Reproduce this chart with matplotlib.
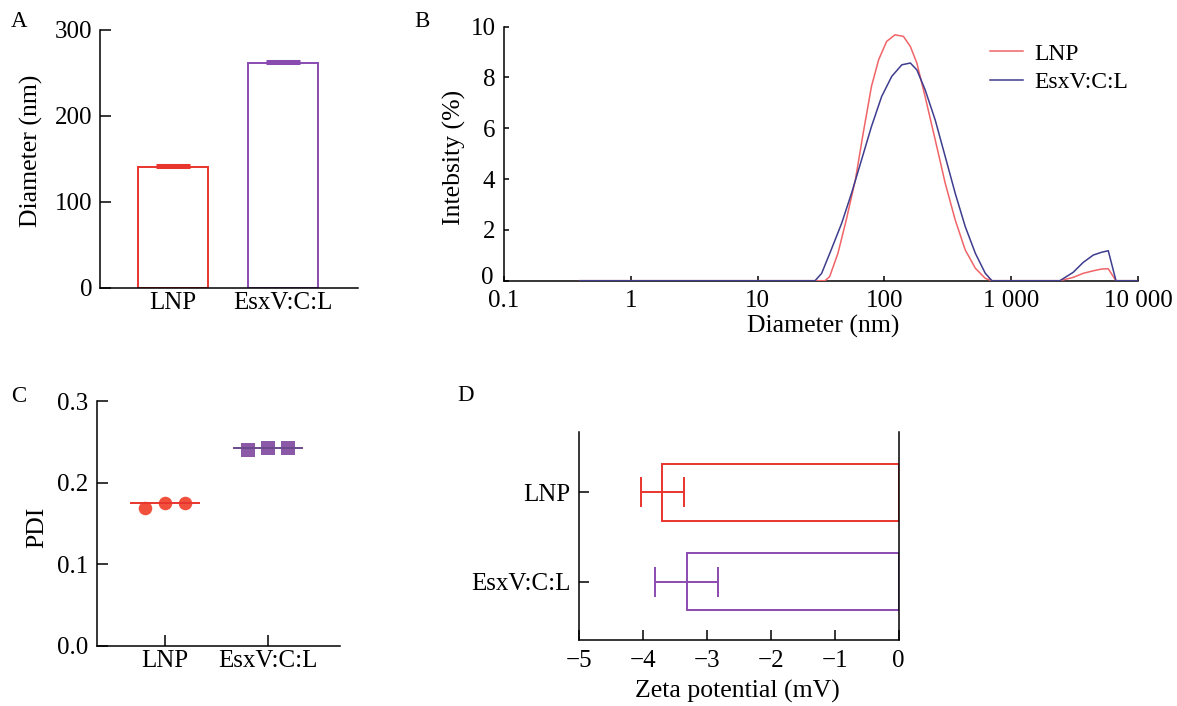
import matplotlib
matplotlib.use("Agg")
import matplotlib.pyplot as plt
import matplotlib.transforms as mtransforms
import numpy as np

plt.rcParams['font.family'] = ['Liberation Serif', 'DejaVu Serif']
plt.rcParams['axes.linewidth'] = 1.1

# ---------------- data ----------------
groups = ["LNP", "EsxV:C:L"]

# A: diameter (nm)
diam_mean = [141, 262]
diam_err = [2, 2]

# B: DLS intensity distributions
lnp_d = [0.4, 30, 34, 37, 43, 50, 59, 68, 79, 90, 104, 121, 141, 160, 180, 209, 251, 301,
         361, 433, 520, 623, 703, 2410, 3070, 3680, 4420, 5140, 5800, 6670, 10000]
lnp_i = [0, 0, 0, 0.16, 1.08, 2.39, 3.97, 5.81, 7.65, 8.7, 9.42, 9.68, 9.62, 9.22, 8.57, 7.25,
         5.55, 3.84, 2.39, 1.21, 0.49, 0.09, 0, 0, 0.13, 0.29, 0.39, 0.46, 0.47, 0, 0]
esx_d = [0.4, 28.4, 32, 38, 46, 55, 66, 79, 95, 114, 137, 160, 180, 209, 251, 301, 361, 433,
         520, 623, 703, 2410, 3070, 3680, 4420, 5140, 5800, 6670, 10000]
esx_i = [0, 0, 0.29, 1.21, 2.26, 3.44, 4.76, 6.07, 7.25, 8.04, 8.5, 8.57, 8.3, 7.52, 6.33, 4.89,
         3.44, 2.13, 1.08, 0.29, 0, 0, 0.33, 0.72, 1.01, 1.12, 1.18, 0, 0]
b_xticks = [0.1, 1, 10, 100, 1000, 10000]
b_xticklabels = ["0.1", "1", "10", "100", "1 000", "10 000"]

# C: PDI replicates
pdi_lnp = [0.169, 0.1746, 0.1746]
pdi_esx = [0.240, 0.242, 0.242]
pdi_mean = [0.1745, 0.2427]

# D: zeta potential (mV)
zeta_mean = [-3.70, -3.32]
zeta_err = [0.34, 0.49]

# colors
red = "#E8352E"
purple = "#8A4BB0"
b_red = "#F06468"
b_blue = "#3E3D8E"
c_red = "#F0503C"
c_purple = "#8C59A8"

W, H = 1177, 706
fig = plt.figure(figsize=(W / 100, H / 100), dpi=100)

def ax_px(l, r, t, b):
    return fig.add_axes([l / W, 1 - b / H, (r - l) / W, (b - t) / H])

fs = 18
fsl = 18.5

# ---------------- A ----------------
axA = ax_px(100, 358, 30, 288)
xA = np.arange(len(groups))
axA.bar(xA, diam_mean, width=0.636, facecolor="white", edgecolor=[red, purple], linewidth=1.4, zorder=2)
for i in range(len(groups)):
    axA.errorbar(xA[i], diam_mean[i], yerr=[[0], [diam_err[i]]], color=[red, purple][i],
                 capsize=12.5, capthick=2.2, elinewidth=1.4, zorder=3)
axA.set_xlim(-0.664, 1.68)
axA.set_ylim(0, 300)
axA.set_yticks([0, 100, 200, 300])
axA.set_xticks(xA)
axA.set_xticklabels(groups)
axA.spines[['top', 'right']].set_visible(False)
axA.tick_params(axis='both', direction='in', length=8, width=1.1, labelsize=fs)
axA.tick_params(axis='y', pad=5.5)
axA.tick_params(axis='x', pad=3)
axA.set_ylabel("Diameter (nm)", fontsize=fsl)
axA.yaxis.set_label_coords(-0.221, 0.53)

# ---------------- B ----------------
axB = ax_px(503.7, 1138.3, 26.7, 280.7)
axB.plot(lnp_d, lnp_i, color=b_red, lw=1.1, label="LNP", zorder=3)
axB.plot(esx_d, esx_i, color=b_blue, lw=1.1, label="EsxV:C:L", zorder=3)
axB.set_xscale('log')
axB.set_xlim(0.1, 10000)
axB.set_ylim(0, 10)
axB.set_xticks(b_xticks)
axB.set_xticklabels(b_xticklabels)
axB.xaxis.set_minor_locator(matplotlib.ticker.NullLocator())
axB.set_yticks([0, 2, 4, 6, 8, 10])
axB.spines[['top', 'right']].set_visible(False)
axB.tick_params(axis='both', direction='in', length=3.5, width=1.1, labelsize=fs)
axB.tick_params(axis='x', pad=7)
axB.tick_params(axis='y', pad=6)
axB.set_ylabel("Intebsity (%)", fontsize=fsl)
axB.yaxis.set_label_coords(-0.059, 0.486)
axB.set_xlabel("Diameter (nm)", fontsize=fsl)
axB.xaxis.set_label_coords(0.504, -0.135)
axB.legend(loc='upper left', bbox_to_anchor=(0.767, 0.935), frameon=False, fontsize=17,
           handlelength=1.4, handletextpad=0.45, labelspacing=0.28, borderpad=0, borderaxespad=0)
# nudge the "0" y tick label slightly up, as in the reference
zero_lab = axB.get_yticklabels()[0]
zero_lab.set_transform(zero_lab.get_transform() +
                       mtransforms.ScaledTranslation(-1 / 72, 4 / 72, fig.dpi_scale_trans))

# ---------------- C ----------------
axC = ax_px(96.7, 340, 401, 645.7)
xC = np.arange(len(groups))
offs = np.array([-0.194, 0.0, 0.194])
axC.scatter(xC[0] + offs, pdi_lnp, marker='o', s=95, color=c_red, zorder=3, linewidths=0)
axC.scatter(xC[1] + offs, pdi_esx, marker='s', s=95, color=c_purple, zorder=3, linewidths=0)
for i, c in enumerate([red, "#6A4A8A"]):
    axC.hlines(pdi_mean[i], xC[i] - 0.34, xC[i] + 0.34, color=c, lw=1.4, zorder=4)
axC.set_xlim(-0.663, 1.70)
axC.set_ylim(0, 0.3)
axC.set_yticks([0.0, 0.1, 0.2, 0.3])
axC.set_yticklabels(["0.0", "0.1", "0.2", "0.3"])
axC.set_xticks(xC)
axC.set_xticklabels(groups)
axC.spines[['top', 'right']].set_visible(False)
axC.tick_params(axis='both', direction='in', length=8, width=1.1, labelsize=fs)
axC.tick_params(axis='y', pad=6)
axC.tick_params(axis='x', pad=3)
axC.set_ylabel("PDI", fontsize=fsl)
axC.yaxis.set_label_coords(-0.2, 0.483)

# ---------------- D ----------------
axD = ax_px(579.3, 898.7, 431.7, 640)
yD = np.array([1, 0])
axD.barh(yD, zeta_mean, height=0.645, facecolor="white", edgecolor=[red, purple], linewidth=1.4, zorder=2)
for i in range(len(groups)):
    axD.errorbar(zeta_mean[i], yD[i], xerr=zeta_err[i], color=[red, purple][i],
                 capsize=10.5, capthick=1.4, elinewidth=1.4, zorder=3)
axD.set_xlim(-5, 0)
axD.set_ylim(-0.653, 1.68)
axD.set_xticks([-5, -4, -3, -2, -1, 0])
axD.set_yticks(yD)
axD.set_yticklabels(groups)
axD.spines['top'].set_visible(False)
axD.tick_params(axis='both', direction='in', length=7.5, width=1.1, labelsize=fs)
axD.tick_params(axis='y', pad=6.5, right=False)
axD.tick_params(axis='x', pad=7)
axD.set_xlabel("Zeta potential (mV)", fontsize=fsl)
axD.xaxis.set_label_coords(0.495, -0.19)

# panel letters
for lab, x, y in [("A", 11, 11), ("B", 414, 11), ("C", 11, 386), ("D", 457, 385)]:
    fig.text(x / W, 1 - y / H, lab, fontsize=16.5, va='top', ha='left')

fig.savefig("out.png", dpi=100)
